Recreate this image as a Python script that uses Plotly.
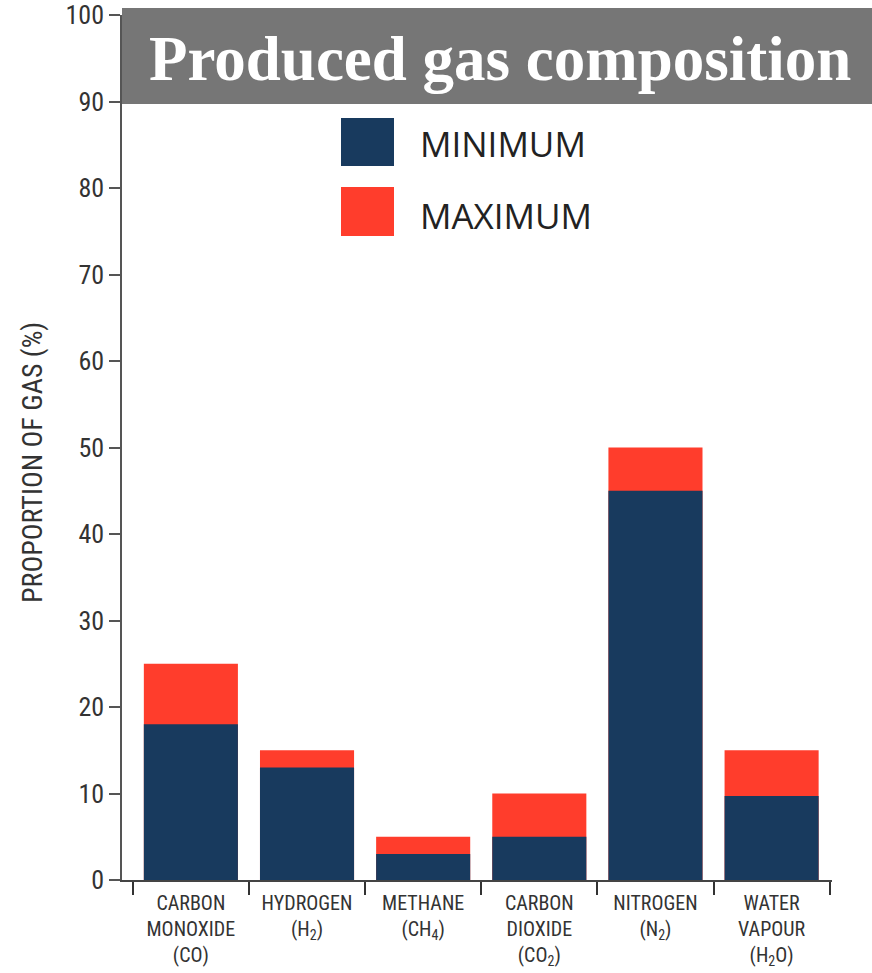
import plotly.graph_objects as go

# Gas composition ranges (% of produced gas)
categories = [
    "CARBON<br>MONOXIDE<br>(CO)",
    "HYDROGEN<br>(H<sub>2</sub>)",
    "METHANE<br>(CH<sub>4</sub>)",
    "CARBON<br>DIOXIDE<br>(CO<sub>2</sub>)",
    "NITROGEN<br>(N<sub>2</sub>)",
    "WATER<br>VAPOUR<br>(H<sub>2</sub>O)",
]
minimum = [18, 13, 3, 5, 45, 9.7]
maximum = [25, 15, 5, 10, 50, 15]
y_ticks = [0, 10, 20, 30, 40, 50, 60, 70, 80, 90, 100]

BLUE = "#183a5e"
RED = "#ff3d2c"
NARROW = "Roboto Condensed, Liberation Sans Narrow, Roboto, sans-serif"

W, H = 872, 973
M_L, M_R, M_T, M_B = 122, 40, 15, 93
PW, PH = W - M_L - M_R, H - M_T - M_B


def px_x(x):
    return (x - M_L) / PW


def px_y(y):
    return (H - M_B - y) / PH


fig = go.Figure()
# Maximum drawn full height, minimum overlaid in front of it
fig.add_trace(go.Bar(x=categories, y=maximum, name="MAXIMUM",
                     marker=dict(color=RED, line=dict(width=0)), width=0.81))
fig.add_trace(go.Bar(x=categories, y=minimum, name="MINIMUM",
                     marker=dict(color=BLUE, line=dict(width=0)), width=0.81))

shapes = [
    # title banner
    dict(type="rect", xref="paper", yref="paper",
         x0=px_x(122), x1=px_x(880), y0=px_y(104), y1=px_y(8),
         fillcolor="#767676", line=dict(width=0), layer="above"),
    # legend swatches
    dict(type="rect", xref="paper", yref="paper",
         x0=px_x(341), x1=px_x(394), y0=px_y(166), y1=px_y(118),
         fillcolor=BLUE, line=dict(width=0)),
    dict(type="rect", xref="paper", yref="paper",
         x0=px_x(341), x1=px_x(394), y0=px_y(236), y1=px_y(187),
         fillcolor=RED, line=dict(width=0)),
]

annotations = [
    dict(text="<b>Produced gas composition</b>", xref="paper", yref="paper",
         x=px_x(500), y=px_y(59), xanchor="center", yanchor="middle",
         showarrow=False,
         font=dict(family="Liberation Serif, Times New Roman, serif", size=63, color="white")),
    dict(text="MINIMUM", xref="paper", yref="paper",
         x=px_x(418), y=px_y(144), xanchor="left", yanchor="middle", showarrow=False,
         font=dict(family="Open Sans, sans-serif", size=35, color="#222")),
    dict(text="MAXIMUM", xref="paper", yref="paper",
         x=px_x(418), y=px_y(215), xanchor="left", yanchor="middle", showarrow=False,
         font=dict(family="Open Sans, sans-serif", size=35, color="#222")),
    dict(text="PROPORTION OF GAS (%)", xref="paper", yref="paper",
         x=px_x(33), y=px_y(463), xanchor="center", yanchor="middle",
         textangle=-90, showarrow=False,
         font=dict(family=NARROW, size=28, color="#333")),
]

fig.update_layout(
    width=W, height=H,
    margin=dict(l=M_L, r=M_R, t=M_T, b=M_B),
    barmode="overlay",
    showlegend=False,
    plot_bgcolor="white", paper_bgcolor="white",
    shapes=shapes, annotations=annotations,
    xaxis=dict(
        range=[-0.593, 5.52], showgrid=False, zeroline=False,
        showline=True, linecolor="#444", linewidth=1.5,
        ticks="outside", tickson="boundaries", ticklen=13,
        tickcolor="#333", tickwidth=1.5, tickangle=0, automargin=False,
        ticklabelstandoff=4,
        tickfont=dict(family=NARROW, size=20, color="#333"),
    ),
    yaxis=dict(
        range=[0, 100], tickvals=y_ticks, showgrid=False, zeroline=False,
        showline=True, linecolor="#555", linewidth=1.5, automargin=False,
        ticks="outside", ticklen=11, tickcolor="#555", tickwidth=1.5,
        tickfont=dict(family=NARROW, size=26, color="#333"),
    ),
)

fig.write_html("out.html")
